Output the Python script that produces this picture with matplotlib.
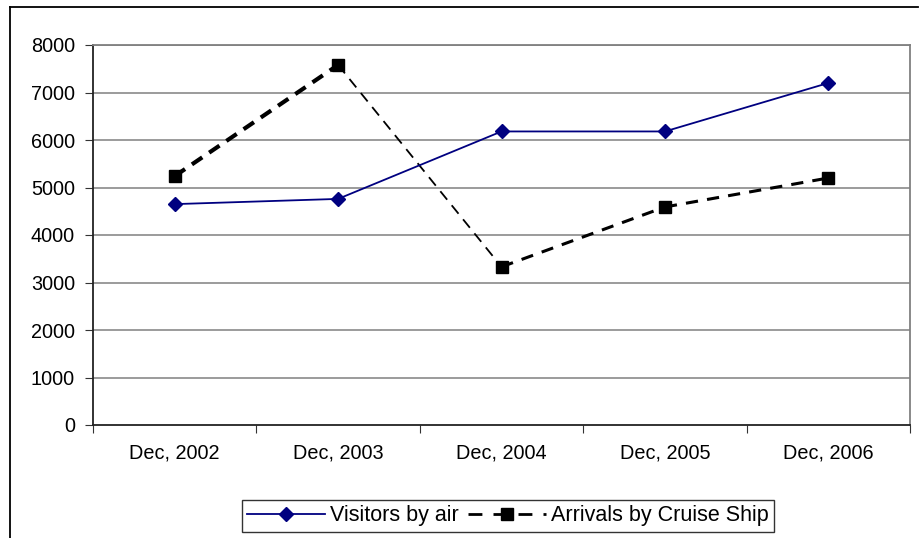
import matplotlib
matplotlib.use("Agg")
import matplotlib.pyplot as plt
from matplotlib.lines import Line2D

categories = ["Dec, 2002", "Dec, 2003", "Dec, 2004", "Dec, 2005", "Dec, 2006"]
visitors_air = [4650, 4760, 6180, 6180, 7200]
cruise_arrivals = [5240, 7580, 3330, 4590, 5200]
yticks = [0, 1000, 2000, 3000, 4000, 5000, 6000, 7000, 8000]

plt.rcParams['font.family'] = ['Liberation Sans', 'DejaVu Sans']

fig = plt.figure(figsize=(9.19, 5.38), dpi=100)
ax = fig.add_axes([93/919, 1-425/538, (910-93)/919, (425-45)/538])

x = list(range(len(categories)))

# gridlines
for v in yticks[1:]:
    ax.axhline(v, color='#808080', lw=1.1, zorder=0)

ax.plot(x, visitors_air, color='#000080', lw=1.3, marker='D', markersize=7,
        markerfacecolor='#000080', markeredgecolor='#000080', zorder=3,
        label='Visitors by air')

# cruise line: segments with differing thickness as in reference
widths = [3.0, 1.3, 2.2, 2.2]
dashes = [(3, 2), (6, 4), (4, 3), (4, 3)]
for i in range(len(x) - 1):
    ax.plot(x[i:i+2], cruise_arrivals[i:i+2], color='black', lw=widths[i],
            linestyle=(0, dashes[i]), zorder=2)
ax.plot(x, cruise_arrivals, linestyle='none', marker='s', markersize=9,
        color='black', zorder=4)

ax.set_xlim(-0.5, len(categories) - 0.5)
ax.set_ylim(0, 8000)
ax.set_yticks(yticks)
ax.set_yticklabels([str(v) for v in yticks], fontsize=14.3)
ax.set_xticks([i - 0.5 for i in range(len(categories) + 1)])
ax.set_xticklabels([])
ax.set_xticks(x, minor=True)
ax.set_xticklabels(categories, minor=True, fontsize=14.3)
ax.tick_params(axis='x', which='minor', length=0, pad=13)
ax.tick_params(axis='x', which='major', length=6, direction='out', color='#333333')
ax.tick_params(axis='y', length=6, direction='out', color='#333333', pad=7)

for s in ['top', 'right']:
    ax.spines[s].set_color('#808080')
    ax.spines[s].set_linewidth(1.3)
for s in ['left', 'bottom']:
    ax.spines[s].set_color('#222222')
    ax.spines[s].set_linewidth(1.3)

handles = [
    Line2D([0], [0], color='#000080', lw=1.3, marker='D', markersize=7),
    Line2D([0], [0], color='black', lw=2.0, linestyle=(0, (5, 4)), marker='s', markersize=9),
]
leg = fig.legend(handles, ["Visitors by air", "Arrivals by Cruise Ship"],
                 loc='center', bbox_to_anchor=(508/919, 1-516/538), ncol=2,
                 fontsize=15.5, frameon=True, fancybox=False, handlelength=3.6,
                 handletextpad=0.25, columnspacing=0.45, borderpad=0.25,
                 borderaxespad=0)
leg.get_frame().set_edgecolor('black')
leg.get_frame().set_linewidth(1.0)

# outer chart frame
fig.add_artist(Line2D([10/919, 10/919], [0, 1-7/538], color='black', lw=1.3,
                      transform=fig.transFigure))
fig.add_artist(Line2D([10/919, 918/919], [1-7/538, 1-7/538], color='black', lw=1.3,
                      transform=fig.transFigure))

fig.savefig("out.png", dpi=100)
